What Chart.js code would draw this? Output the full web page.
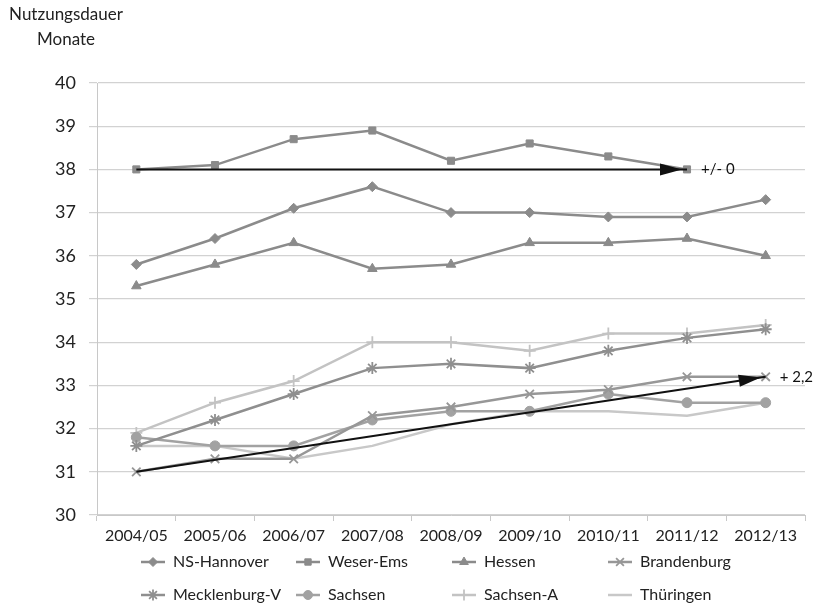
<!DOCTYPE html>
<html>
<head>
<meta charset="utf-8">
<script src="https://cdn.jsdelivr.net/npm/chart.js@4"></script>
<style>
  html, body { margin: 0; padding: 0; background: #fff; }
  #wrap { width: 821px; height: 606px; position: relative; }
</style>
</head>
<body>
<div id="wrap"><canvas id="myChart" width="821" height="606"></canvas></div>
<script>
const jahre = ["2004/05", "2005/06", "2006/07", "2007/08", "2008/09", "2009/10", "2010/11", "2011/12", "2012/13"];
const nsHannover = [35.8, 36.4, 37.1, 37.6, 37.0, 37.0, 36.9, 36.9, 37.3];
const weserEms = [38.0, 38.1, 38.7, 38.9, 38.2, 38.6, 38.3, 38.0, null];
const hessen = [35.3, 35.8, 36.3, 35.7, 35.8, 36.3, 36.3, 36.4, 36.0];
const brandenburg = [31.0, 31.3, 31.3, 32.3, 32.5, 32.8, 32.9, 33.2, 33.2];
const mecklenburg = [31.6, 32.2, 32.8, 33.4, 33.5, 33.4, 33.8, 34.1, 34.3];
const sachsen = [31.8, 31.6, 31.6, 32.2, 32.4, 32.4, 32.8, 32.6, 32.6];
const sachsenA = [31.9, 32.6, 33.1, 34.0, 34.0, 33.8, 34.2, 34.2, 34.4];
const thueringen = [31.6, 31.6, 31.3, 31.6, 32.1, 32.4, 32.4, 32.3, 32.6];
// Trendpfeile: nur Anfangs- und Endwert
const pfeilWeser = [38.0, null, null, null, null, null, null, 38.0, null];
const pfeilOst = [31.0, null, null, null, null, null, null, null, 33.2];
const pfeilTexte = ["+/- 0", "+ 2,2"];
const yTicks = [30, 31, 32, 33, 34, 35, 36, 37, 38, 39, 40];

const FONT = "Lato, 'Open Sans', sans-serif";

function serie(label, data, color, pointStyle, radius, width) {
  return {
    label: label,
    data: data,
    borderColor: color,
    backgroundColor: color,
    borderWidth: width || 2.5,
    pointStyle: pointStyle,
    pointRadius: radius,
    pointBorderWidth: pointStyle === "cross" || pointStyle === "crossRot" || pointStyle === "star" ? 1.8 : 1,
    pointBackgroundColor: color,
    pointBorderColor: color,
    tension: 0,
    fill: false,
    order: 1,
  };
}

const datasets = [
  serie("NS-Hannover", nsHannover, "#8b8b8b", "rectRot", 5),
  serie("Weser-Ems", weserEms, "#8b8b8b", "rect", 5),
  serie("Hessen", hessen, "#8b8b8b", "triangle", 5.5),
  serie("Brandenburg", brandenburg, "#979797", "crossRot", 6),
  serie("Mecklenburg-V", mecklenburg, "#8f8f8f", "star", 6),
  serie("Sachsen", sachsen, "#a2a2a2", "circle", 5),
  serie("Sachsen-A", sachsenA, "#c3c3c3", "cross", 6),
  serie("Thüringen", thueringen, "#c8c8c8", "line", 0),
];

[pfeilWeser, pfeilOst].forEach((d, i) => {
  datasets.push({
    label: "pfeil" + i,
    data: d,
    borderColor: "#111",
    borderWidth: 2,
    pointRadius: 0,
    spanGaps: true,
    order: -1,
    isArrow: true,
    arrowText: pfeilTexte[i],
  });
});

// Pfeilspitzen und Beschriftungen
const arrowPlugin = {
  id: "arrows",
  afterDatasetsDraw(chart) {
    const ctx = chart.ctx;
    chart.data.datasets.forEach((ds, i) => {
      if (!ds.isArrow) return;
      const pts = chart.getDatasetMeta(i).data.filter((p, j) => ds.data[j] !== null);
      const a = pts[0], b = pts[pts.length - 1];
      const ang = Math.atan2(b.y - a.y, b.x - a.x);
      const tipX = b.x - 5 * Math.cos(ang), tipY = b.y - 5 * Math.sin(ang);
      ctx.save();
      ctx.fillStyle = "#111";
      ctx.translate(tipX, tipY);
      ctx.rotate(ang);
      ctx.beginPath();
      ctx.moveTo(0, 0);
      ctx.lineTo(-22, -6);
      ctx.lineTo(-22, 6);
      ctx.closePath();
      ctx.fill();
      ctx.restore();
      ctx.save();
      ctx.fillStyle = "#111";
      ctx.font = "15px " + FONT;
      ctx.textBaseline = "middle";
      ctx.fillText(ds.arrowText, b.x + 14, b.y);
      ctx.restore();
    });
  },
};

// Achsentitel oben links und Legende in festen Spalten
const extrasPlugin = {
  id: "extras",
  afterDraw(chart) {
    const ctx = chart.ctx;
    ctx.save();
    ctx.fillStyle = "#222";
    ctx.font = "17px " + FONT;
    ctx.textAlign = "center";
    ctx.textBaseline = "middle";
    ctx.fillText("Nutzungsdauer", 66, 15);
    ctx.fillText("Monate", 66, 40);

    const spalten = [153, 308, 464, 620];
    const zeilen = [562, 595];
    const serien = chart.data.datasets.filter((d) => !d.isArrow);
    serien.forEach((ds, i) => {
      const x = spalten[i % 4];
      const y = zeilen[Math.floor(i / 4)];
      ctx.strokeStyle = ds.borderColor;
      ctx.lineWidth = 2.5;
      ctx.beginPath();
      ctx.moveTo(x - 12, y);
      ctx.lineTo(x + 12, y);
      ctx.stroke();
      if (ds.pointRadius > 0) {
        ctx.fillStyle = ds.borderColor;
        ctx.strokeStyle = ds.borderColor;
        ctx.lineWidth = ds.pointBorderWidth;
        Chart.helpers.drawPoint(ctx, { pointStyle: ds.pointStyle, radius: ds.pointRadius - 0.5, borderWidth: ds.pointBorderWidth, rotation: 0 }, x, y);
      }
      ctx.fillStyle = "#222";
      ctx.font = "16px " + FONT;
      ctx.textAlign = "left";
      ctx.fillText(ds.label, x + 20, y);
    });
    ctx.restore();
  },
};

const ctx = document.getElementById("myChart").getContext("2d");
const myChart = new Chart(ctx, {
  type: "line",
  data: { labels: jahre, datasets: datasets },
  plugins: [arrowPlugin, extrasPlugin],
  options: {
    responsive: false,
    animation: false,
    devicePixelRatio: 1,
    layout: { padding: { left: 0, right: 16, top: 83, bottom: 60 } },
    plugins: {
      legend: { display: false },
      tooltip: { enabled: false },
    },
    scales: {
      x: {
        offset: true,
        afterFit: (axis) => { axis.height = 31; },
        grid: {
          offset: true,
          drawOnChartArea: false,
          drawTicks: true,
          tickLength: 6,
          color: "#c8c8c8",
        },
        border: { color: "#c8c8c8" },
        ticks: {
          color: "#222",
          font: { family: FONT, size: 16 },
          padding: 5,
          maxRotation: 0,
          autoSkip: false,
        },
      },
      y: {
        min: 30,
        max: 40,
        afterFit: (axis) => { axis.width = 97; },
        afterBuildTicks: (axis) => { axis.ticks = yTicks.map((v) => ({ value: v })); },
        grid: { color: "#d2d2d2", lineWidth: 1.2, tickLength: 8 },
        border: { color: "#c8c8c8" },
        ticks: {
          color: "#222",
          font: { family: FONT, size: 18 },
          padding: 13,
        },
      },
    },
  },
});
</script>
</body>
</html>
